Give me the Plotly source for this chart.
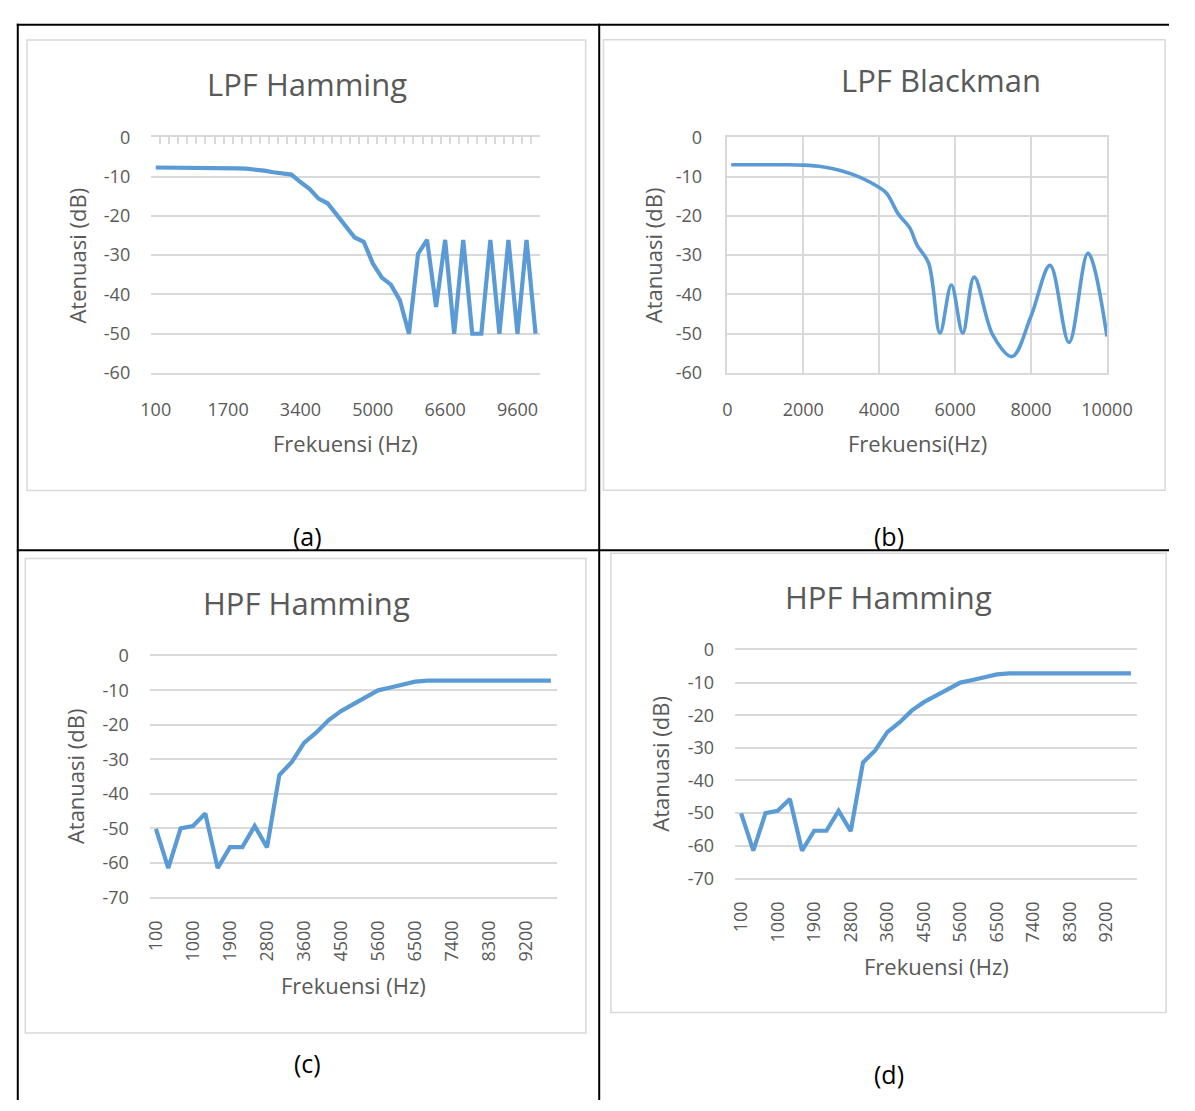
import plotly.graph_objects as go

W, H = 1195, 1111

# ---- data -------------------------------------------------------------
# (a) LPF Hamming, categorical frequency axis
lpf_ham_freq = [100, 300, 500, 700, 900, 1100, 1300, 1500, 1700,
                1900, 2100, 2300, 2500, 2700, 2900, 3100, 3400,
                3600, 3800, 4000, 4200, 4400, 4600, 4800, 5000,
                5200, 5400, 5600, 5800, 6000, 6200, 6400, 6600,
                7000, 7400, 7800, 8200, 8600, 9000, 9300, 9600,
                9800, 10000]
lpf_ham_db = [-7.7, -7.7, -7.7, -7.7, -7.7, -7.7, -7.7, -7.7, -7.7,
              -7.9, -8.0, -8.2, -8.5, -8.9, -9.2, -9.5, -11.4,
              -13.1, -15.6, -16.8, -19.7, -22.6, -25.5, -26.6, -32.1,
              -35.7, -37.5, -41.5, -50.0, -29.7, -26.1, -43.2, -26.1,
              -50.0, -26.1, -50.0, -50.0, -26.1, -50.0, -26.1, -50.0,
              -26.1, -50.0]
lpf_ham_ticks = [100, 1700, 3400, 5000, 6600, 9600]

# (b) LPF Blackman, numeric frequency axis
lpf_blk_freq = [100, 500, 1000, 1500, 2000, 2500, 3000, 3500, 4000, 4200,
                4500, 4800, 5000, 5300, 5600, 5900, 6200, 6500, 7000, 7500,
                8000, 8500, 9000, 9500, 10000]
lpf_blk_db = [-7.0, -7.0, -7.0, -7.0, -7.1, -7.5, -8.5, -10.2, -12.8, -14.3,
              -19.5, -23.0, -27.5, -32.0, -49.8, -37.6, -49.8, -35.6, -50.5, -55.8,
              -45.5, -32.6, -52.2, -29.5, -50.7]
lpf_blk_xticks = [0, 2000, 4000, 6000, 8000, 10000]

# (c)/(d) HPF Hamming, categorical frequency axis
hpf_freq = [100, 400, 700, 1000, 1300, 1600, 1900, 2200, 2500, 2800,
            3000, 3300, 3600, 3900, 4200, 4500, 4800, 5200, 5600, 5900,
            6200, 6500, 6800, 7100, 7400, 7700, 8000, 8300, 8600, 8900,
            9200, 9500, 9800]
hpf_db = [-50.1, -61.5, -50.0, -49.3, -45.7, -61.5, -55.4, -55.4, -49.3, -55.5,
          -34.5, -30.8, -25.2, -22.2, -18.6, -16.0, -14.0, -12.1, -10.0, -9.2,
          -8.5, -7.5, -7.2, -7.2, -7.2, -7.2, -7.2, -7.2, -7.2, -7.2,
          -7.2, -7.2, -7.2]
hpf_ticks = [100, 1000, 1900, 2800, 3600, 4500, 5600, 6500, 7400, 8300, 9200]

# dB tick values for the vertical axes
db_ticks_60 = [0, -10, -20, -30, -40, -50, -60]
db_ticks_70 = [0, -10, -20, -30, -40, -50, -60, -70]

# ---- styling ----------------------------------------------------------
BLUE = "#5B9BD5"
GRID = "#D9D9D9"
TXT = "#595959"
FONT = "Open Sans"
TICKFONT = dict(family=FONT, size=18, color=TXT)


def fx(x):
    # pixel -> paper fraction
    return x / W


def fy(y):
    return 1 - y / H


def px_x(x0, x1):
    return [fx(x0), fx(x1)]


def px_y(top, bottom):
    return [fy(bottom), fy(top)]


fig = go.Figure()

cat_a = [str(f) for f in lpf_ham_freq]
cat_h = [str(f) for f in hpf_freq]

# (a)
fig.add_trace(go.Scatter(x=cat_a, y=lpf_ham_db, mode="lines",
                         line=dict(color=BLUE, width=4.2),
                         xaxis="x", yaxis="y", hoverinfo="skip"))
# companion on the boundary-tick axis of (a) so that axis gets drawn
fig.add_trace(go.Scatter(x=list(range(len(cat_a))), y=lpf_ham_db, mode="lines",
                         line=dict(color=BLUE, width=1), opacity=0,
                         xaxis="x5", yaxis="y", hoverinfo="skip"))
# (b)
fig.add_trace(go.Scatter(x=lpf_blk_freq, y=lpf_blk_db, mode="lines",
                         line=dict(color=BLUE, width=3.6, shape="spline", smoothing=1.0),
                         xaxis="x2", yaxis="y2", hoverinfo="skip"))
# (c)
fig.add_trace(go.Scatter(x=cat_h, y=hpf_db, mode="lines",
                         line=dict(color=BLUE, width=4.2),
                         xaxis="x3", yaxis="y3", hoverinfo="skip"))
# (d)
fig.add_trace(go.Scatter(x=cat_h, y=hpf_db, mode="lines",
                         line=dict(color=BLUE, width=4.2),
                         xaxis="x4", yaxis="y4", hoverinfo="skip"))


def yax(domain, anchor, ticks, **extra):
    d = dict(domain=domain, anchor=anchor, range=[min(ticks), 0],
             tickmode="array", tickvals=ticks, ticktext=[str(t) for t in ticks],
             showline=False, zeroline=False, showgrid=True, gridcolor=GRID,
             gridwidth=1.5, tickfont=TICKFONT, ticks="", ticklabelstandoff=20,
             fixedrange=True)
    d.update(extra)
    return d


def cat_xax(domain, anchor, cats, ticks, **extra):
    d = dict(domain=domain, anchor=anchor, type="category",
             categoryorder="array", categoryarray=cats,
             range=[-0.5, len(cats) - 0.5], tickmode="array",
             tickvals=[str(t) for t in ticks], ticktext=[str(t) for t in ticks],
             showgrid=False, zeroline=False, ticks="", tickfont=TICKFONT,
             showline=True, linecolor=GRID, linewidth=1.5, fixedrange=True)
    d.update(extra)
    return d


fig.update_layout(
    width=W, height=H, margin=dict(l=0, r=0, t=0, b=0),
    paper_bgcolor="white", plot_bgcolor="white", showlegend=False,
    # (a)
    xaxis=cat_xax(px_x(144.7, 546), "y", cat_a, lpf_ham_ticks, ticklabelstandoff=20),
    yaxis=yax(px_y(127, 368), "x", db_ticks_60),
    # category boundary ticks hanging from the 0 dB axis line of (a)
    xaxis5=dict(overlaying="x", anchor="y", side="top", type="linear",
                range=[-0.5, len(cat_a) - 0.5], tickmode="linear", tick0=-0.5, dtick=1,
                ticks="inside", ticklen=7, tickwidth=1.5, tickcolor=GRID,
                showline=True, linecolor=GRID, linewidth=2,
                showticklabels=False, showgrid=False, zeroline=False, fixedrange=True),
    # (b)
    xaxis2=dict(domain=px_x(739.3, 1131), anchor="y2", range=[0, 10000],
                tickmode="array", tickvals=lpf_blk_xticks,
                ticktext=[str(t) for t in lpf_blk_xticks],
                showgrid=True, gridcolor=GRID, gridwidth=1.5, showline=True, mirror=True,
                linecolor=GRID, linewidth=1.5, zeroline=False, ticks="",
                tickfont=TICKFONT, ticklabelstandoff=20, fixedrange=True),
    yaxis2=yax(px_y(127, 368), "x2", db_ticks_60,
               showline=True, mirror=True, linecolor=GRID, linewidth=1.5),
    # (c)
    xaxis3=cat_xax(px_x(143.2, 563.5), "y3", cat_h, hpf_ticks,
                   tickangle=-90, mirror=True, ticklabelstandoff=14),
    yaxis3=yax(px_y(657, 904), "x3", db_ticks_70),
    # (d)
    xaxis4=cat_xax(px_x(747.2, 1162), "y4", cat_h, hpf_ticks,
                   tickangle=-90, mirror=True, ticklabelstandoff=14),
    yaxis4=yax(px_y(651, 884.5), "x4", db_ticks_70),
)


def ann(text, x, y, size, color=TXT, angle=0):
    fig.add_annotation(text=text, x=fx(x), y=fy(y), xref="paper", yref="paper",
                       showarrow=False, textangle=angle, xanchor="center", yanchor="middle",
                       font=dict(family=FONT, size=size, color=color))


# chart titles
ann("LPF Hamming", 305, 73, 31)
ann("LPF Blackman", 960, 68, 31)
ann("HPF Hamming", 305, 603, 31)
ann("HPF Hamming", 905.5, 597, 31)
# axis titles
ann("Frekuensi (Hz)", 345, 440, 22)
ann("Frekuensi(Hz)", 935, 440, 22)
ann("Frekuensi (Hz)", 353, 993, 22)
ann("Frekuensi (Hz)", 955, 974, 22)
ann("Atenuasi (dB)", 68, 248, 22, angle=-90)
ann("Atanuasi (dB)", 662, 248, 22, angle=-90)
ann("Atanuasi (dB)", 66, 780, 22, angle=-90)
ann("Atanuasi (dB)", 670, 767, 22, angle=-90)
# captions
ann("(a)", 306, 535, 25, color="black")
ann("(b)", 906, 535, 25, color="black")
ann("(c)", 306, 1073, 25, color="black")
ann("(d)", 906, 1084, 25, color="black")


def rect(x0, y0, x1, y1):
    fig.add_shape(type="rect", xref="paper", yref="paper",
                  x0=fx(x0), x1=fx(x1), y0=fy(y1), y1=fy(y0),
                  line=dict(color=GRID, width=1.5), fillcolor="rgba(0,0,0,0)", layer="below")


def hline(y, x0, x1):
    fig.add_shape(type="line", xref="paper", yref="paper",
                  x0=fx(x0), x1=fx(x1), y0=fy(y), y1=fy(y),
                  line=dict(color="black", width=2))


def vline(x, y0, y1):
    fig.add_shape(type="line", xref="paper", yref="paper",
                  x0=fx(x), x1=fx(x), y0=fy(y0), y1=fy(y1),
                  line=dict(color="black", width=2))


# chart-area frames
rect(16.5, 27.5, 593, 488)
rect(611.4, 27.4, 1191, 487.7)
rect(14.8, 557.6, 593.4, 1042.5)
rect(619, 552.2, 1192, 1021.5)

# table rules
hline(12, 6, 1195)
hline(549, 6, 1195)
vline(7, 11, 1111)
vline(607, 11, 1111)

fig.write_html("out.html", config={"displayModeBar": False})
